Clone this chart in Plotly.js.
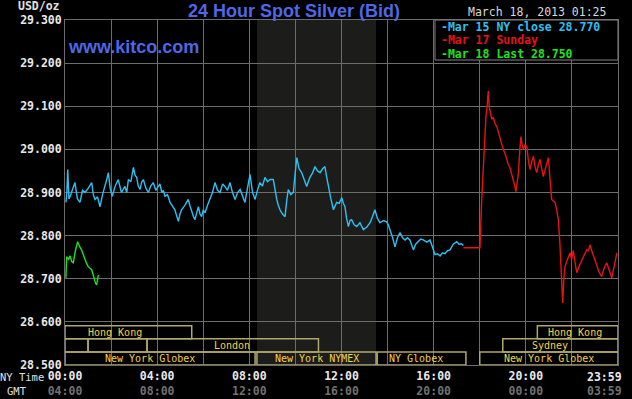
<!DOCTYPE html>
<html>
<head>
<meta charset="utf-8">
<script src="https://cdn.plot.ly/plotly-3.0.1.min.js"></script>
<style>html,body{margin:0;padding:0;background:#000;}#chart{width:632px;height:399px;}</style>
</head>
<body>
<div id="chart"></div>
<script>
// ---- data (NY time in hours, price in USD/oz) ----
const mar15Time = [0.04,0.08,0.12,0.17,0.22,0.32,0.43,0.54,0.65,0.76,0.87,1.01,1.16,1.23,1.30,1.41,1.52,1.63,1.74,1.81,1.88,1.96,2.05,2.18,2.31,2.45,2.60,2.68,2.75,2.86,2.97,3.04,3.11,3.18,3.26,3.33,3.40,3.51,3.62,3.72,3.83,3.94,4.05,4.12,4.20,4.27,4.34,4.45,4.56,4.66,4.77,4.85,4.92,4.99,5.06,5.20,5.35,5.42,5.50,5.57,5.64,5.72,5.79,5.86,5.93,6.00,6.08,6.18,6.29,6.40,6.51,6.62,6.73,6.84,6.94,7.05,7.16,7.27,7.38,7.49,7.60,7.70,7.81,7.92,8.03,8.14,8.25,8.35,8.46,8.57,8.68,8.79,8.90,
  9.04,9.12,9.19,9.26,9.33,9.44,9.55,9.62,9.69,9.80,9.91,9.98,10.06,10.16,10.27,10.38,10.49,10.56,10.63,10.74,10.85,10.96,11.07,11.18,11.28,11.36,11.43,11.54,11.65,11.72,11.79,11.90,12.01,12.08,12.15,12.22,12.30,12.37,12.44,12.55,12.66,12.80,12.95,13.10,13.24,13.35,13.45,13.56,13.67,13.82,13.96,14.03,14.11,14.22,14.32,14.43,14.54,14.65,14.76,14.86,14.97,15.05,15.12,15.22,15.33,15.44,15.55,15.70,15.84,15.95,16.06,16.17,16.28,16.38,16.49,16.60,16.71,16.85,17.00,17.10,17.21,17.29];
const mar15Price = [28.877,28.90,28.953,28.885,28.89,28.905,28.923,28.885,28.877,28.905,28.9,28.91,28.923,28.895,28.884,28.89,28.867,28.895,28.914,28.93,28.946,28.91,28.891,28.915,28.930,28.9,28.914,28.90,28.93,28.925,28.958,28.94,28.935,28.915,28.907,28.925,28.93,28.91,28.9,28.915,28.923,28.905,28.914,28.92,28.9,28.905,28.891,28.895,28.877,28.87,28.86,28.845,28.833,28.85,28.86,28.87,28.884,28.87,28.853,28.845,28.837,28.855,28.867,28.85,28.844,28.86,28.853,28.87,28.884,28.90,28.923,28.905,28.9,28.92,28.914,28.905,28.923,28.9,28.884,28.9,28.907,28.89,28.877,28.91,28.942,28.9,28.884,28.905,28.923,28.915,28.935,28.925,28.93,
  28.93,28.90,28.884,28.87,28.86,28.85,28.844,28.88,28.907,28.895,28.9,28.94,28.981,28.955,28.946,28.93,28.914,28.925,28.935,28.945,28.96,28.95,28.946,28.955,28.96,28.935,28.914,28.885,28.86,28.87,28.877,28.875,28.888,28.875,28.867,28.84,28.821,28.835,28.837,28.825,28.821,28.83,28.814,28.82,28.830,28.845,28.86,28.84,28.830,28.835,28.832,28.825,28.814,28.795,28.774,28.795,28.807,28.795,28.79,28.795,28.79,28.78,28.767,28.78,28.786,28.792,28.79,28.785,28.79,28.77,28.756,28.758,28.753,28.76,28.758,28.765,28.767,28.78,28.786,28.78,28.781,28.777];

const mar17Time = [17.29,18.01,18.08,18.16,18.27,18.32,18.37,18.41,18.45,18.52,18.59,18.66,18.74,18.81,18.88,18.95,19.02,19.10,19.17,19.24,19.31,19.38,19.46,19.52,19.57,19.62,19.68,19.74,19.79,19.84,19.89,19.96,20.04,20.11,20.18,20.25,20.33,20.40,20.47,20.55,20.62,20.69,20.76,20.87,20.98,21.05,21.12,21.20,21.27,21.34,21.41,21.48,21.56,21.60,21.65,21.70,21.81,21.92,21.99,22.06,22.13,22.21,22.32,22.43,22.53,22.64,22.72,22.79,22.86,22.93,23.00,23.08,23.18,23.29,23.40,23.51,23.62,23.73,23.84,23.95];
const mar17Price = [28.772,28.772,28.877,28.97,29.077,29.10,29.135,29.10,29.086,29.07,29.074,29.06,29.053,29.04,29.028,29.01,29.0,28.99,28.977,28.965,28.958,28.945,28.93,28.915,28.902,28.92,28.946,29.0,29.03,29.01,29.0,29.01,29.007,28.975,28.953,28.97,28.984,28.96,28.946,28.965,28.977,28.955,28.937,28.96,28.981,28.93,28.884,28.88,28.877,28.86,28.837,28.78,28.698,28.644,28.70,28.728,28.745,28.76,28.745,28.765,28.74,28.714,28.73,28.744,28.755,28.767,28.765,28.779,28.765,28.753,28.74,28.728,28.715,28.705,28.725,28.737,28.72,28.702,28.73,28.76];

const mar18Time = [0.04,0.07,0.15,0.22,0.29,0.36,0.45,0.55,0.63,0.72,0.80,0.87,0.94,1.01,1.08,1.16,1.22,1.27,1.32,1.37,1.45];
const mar18Price = [28.702,28.751,28.745,28.753,28.74,28.737,28.765,28.786,28.775,28.767,28.755,28.744,28.735,28.728,28.725,28.721,28.71,28.698,28.69,28.686,28.709];

const seriesNames = ['Mar 15 NY close 28.770','Mar 17 Sunday','Mar 18 Last 28.750'];

const yTicks = [28.5,28.6,28.7,28.8,28.9,29.0,29.1,29.2,29.3];
const yTickText = ['28.500','28.600','28.700','28.800','28.900','29.000','29.100','29.200','29.300'];
const xGrid = [0,2,4,6,8,10,12,14,16,18,20,22,24];
const nyLabels = ['00:00','','04:00','','08:00','','12:00','','16:00','','20:00','',''];
const gmtLabels = ['04:00','','08:00','','12:00','','16:00','','20:00','','00:00','',''];
const lastNy = '23:59', lastGmt = '03:59';

// market sessions: row 1 top .. row 3 bottom
const sessionName  = ['Hong Kong','Hong Kong','','','London','Sydney','New York Globex','New York NYMEX','NY Globex','New York Globex'];
const sessionStart = [0,20.5,0,1.0,3.56,19.0,0,8.33,13.55,18.0];
const sessionEnd   = [5.5,24,1.0,3.56,11.0,24,8.25,13.5,17.4,24];
const sessionRow   = [1,1,2,2,2,2,3,3,3,3];
const sessionLabelX= [0.97,20.9,0,0,6.42,20.21,1.69,9.08,14.03,19.02];
const nymexPit = [8.333,13.5];

// ---- layout helpers ----
const L=65,R=618,T=20,B=365;
const px = x => (x-L)/(R-L);
const py = y => (B-y)/(B-T);
const rowY = {1:[28.561,28.591],2:[28.530,28.561],3:[28.5,28.530]};

const mono = 'DejaVu Sans Mono, monospace';
const blue = '#4f67e6';
const colors = ['#2ec0f2','#e41414','#1ee21e'];
const gridC = '#6c6c6c';

const traces = [
  {x:mar15Time,y:mar15Price,mode:'lines',line:{color:colors[0],width:1.4},name:seriesNames[0]},
  {x:mar17Time,y:mar17Price,mode:'lines',line:{color:colors[1],width:1.4},name:seriesNames[1]},
  {x:mar18Time,y:mar18Price,mode:'lines',line:{color:colors[2],width:1.4},name:seriesNames[2]}
];

const shapes = [
  {type:'rect',xref:'x',yref:'y',x0:nymexPit[0],x1:nymexPit[1],y0:28.5,y1:29.3,fillcolor:'#1c1c1a',line:{width:0},layer:'below'},
  {type:'rect',xref:'paper',yref:'paper',x0:px(435),x1:px(618),y0:py(60),y1:py(20),fillcolor:'#000',line:{color:'#808080',width:1},layer:'above'}
];
const annotations = [];
for(let i=0;i<sessionName.length;i++){
  const r=rowY[sessionRow[i]];
  shapes.push({type:'rect',xref:'x',yref:'y',x0:sessionStart[i],x1:sessionEnd[i],y0:r[0],y1:r[1],line:{color:'#b0a86a',width:1.5},fillcolor:'rgba(0,0,0,0)',layer:'above'});
  if(sessionName[i]) annotations.push({xref:'x',yref:'y',x:sessionLabelX[i],y:(r[0]+r[1])/2,xanchor:'left',yanchor:'middle',text:sessionName[i],showarrow:false,borderpad:0,font:{family:mono,size:10,color:'#f2d24a'}});
}
const ann = (x,y,text,xa,font)=>annotations.push({xref:'paper',yref:'paper',x:px(x),y:py(y),xanchor:xa,yanchor:'middle',text:text,showarrow:false,borderpad:0,font:font});
ann(293.5,11,'24 Hour Spot Silver (Bid)','center',{family:'Liberation Sans, Arial, sans-serif',size:18,color:blue,weight:'bold'});
ann(67,47,'www.kitco.com','left',{family:'Liberation Sans, Arial, sans-serif',size:18,color:blue,weight:'bold'});
ann(61,6,'USD/oz','right',{family:mono,size:11.5,color:'#e0e0e0',weight:'bold'});
ann(607,12,'March 18, 2013 01:25','right',{family:mono,size:11.5,color:'#d8d8d8'});
const legY=[26.5,40,53.5];
for(let i=0;i<3;i++) ann(440,legY[i],'-'+seriesNames[i],'left',{family:mono,size:11.5,color:colors[i],weight:'bold'});
ann(45,377,'NY Time','right',{family:mono,size:10.5,color:'#e0e0e0'});
ann(28,391,'GMT','right',{family:mono,size:10.5,color:'#e0e0e0'});
annotations.push({xref:'x',yref:'paper',x:24,xshift:5,y:py(377),xanchor:'right',yanchor:'middle',text:lastNy,showarrow:false,borderpad:0,font:{family:mono,size:11.5,color:'#e8e8e8',weight:'bold'}});
annotations.push({xref:'x',yref:'paper',x:24,xshift:5,y:py(391),xanchor:'right',yanchor:'middle',text:lastGmt,showarrow:false,borderpad:0,font:{family:mono,size:11.5,color:'#707070',weight:'bold'}});

const xTickText = nyLabels.map((t,i)=> t ? t+'<br><span style="color:#707070">'+gmtLabels[i]+'</span>' : '');

const layout = {
  width:632,height:399,
  margin:{l:L,r:632-R,t:T,b:399-B,pad:0},
  paper_bgcolor:'#000',plot_bgcolor:'#000',
  showlegend:false,
  xaxis:{range:[0,24],tickmode:'array',tickvals:xGrid,ticktext:xTickText,showgrid:true,gridcolor:gridC,gridwidth:1,
    zeroline:false,showline:true,mirror:true,linecolor:gridC,linewidth:1,ticks:'',
    tickfont:{family:mono,size:11.5,color:'#e8e8e8',weight:'bold'},fixedrange:true,ticklabeloverflow:'allow'},
  yaxis:{range:[28.5,29.3],tickmode:'array',tickvals:yTicks,ticktext:yTickText,showgrid:true,gridcolor:gridC,gridwidth:1,
    zeroline:false,showline:true,mirror:true,linecolor:gridC,linewidth:1,ticks:'',
    tickfont:{family:mono,size:11.5,color:'#e8e8e8',weight:'bold'},fixedrange:true},
  shapes:shapes,
  annotations:annotations
};
Plotly.newPlot('chart',traces,layout,{staticPlot:true,displayModeBar:false});
</script>
</body>
</html>
